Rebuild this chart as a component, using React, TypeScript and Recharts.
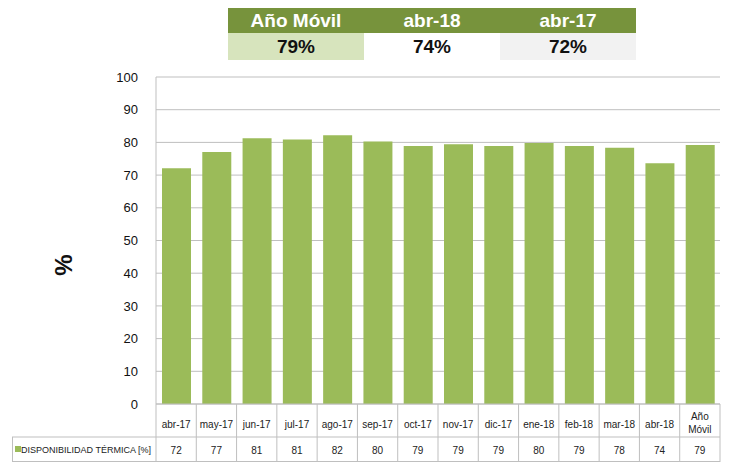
import { BarChart, Bar, XAxis, YAxis, CartesianGrid } from "recharts";

const months = ["abr-17", "may-17", "jun-17", "jul-17", "ago-17", "sep-17", "oct-17", "nov-17", "dic-17", "ene-18", "feb-18", "mar-18", "abr-18", "Año Móvil"];
const disponibilidad = [72.1, 77.1, 81.3, 80.9, 82.2, 80.3, 78.9, 79.4, 78.9, 79.8, 78.9, 78.4, 73.6, 79.2];
const tableValues = [72, 77, 81, 81, 82, 80, 79, 79, 79, 80, 79, 78, 74, 79];
const yTicks = [0, 10, 20, 30, 40, 50, 60, 70, 80, 90, 100];

const summaryHeaders = ["Año Móvil", "abr-18", "abr-17"];
const summaryValues = ["79%", "74%", "72%"];

const data = months.map((m, i) => ({ name: m, value: disponibilidad[i] }));

const GREEN = "#9bbb59";
const DARK_GREEN = "#77933c";
const BORDER = "#bfbfbf";
const FONT = "'Liberation Sans', Arial, sans-serif";

const LEFT = 156;
const RIGHT = 720;
const BAND = (RIGHT - LEFT) / months.length;

function TableTick(props: any) {
  const { x, y, payload } = props;
  const idx = payload.index;
  const top = y - 8;
  const left = x - BAND / 2;
  const label = payload.value as string;
  const parts = label === "Año Móvil" ? ["Año", "Móvil"] : [label];
  return (
    <g>
      <line x1={left + BAND} y1={top} x2={left + BAND} y2={462} stroke={BORDER} />
      {idx === 0 && (
        <g>
          <line x1={left} y1={top} x2={left} y2={462} stroke={BORDER} />
          <line x1={12} y1={437} x2={RIGHT} y2={437} stroke={BORDER} />
          <line x1={12} y1={461.5} x2={RIGHT} y2={461.5} stroke={BORDER} />
          <line x1={12.5} y1={437} x2={12.5} y2={462} stroke={BORDER} />
          <rect x={15} y={446} width={6} height={6} fill={GREEN} />
          <text x={21} y={453} fontSize={9.5} fill="#222" fontFamily={FONT} textLength={130} lengthAdjust="spacingAndGlyphs">
            DISPONIBILIDAD TÉRMICA [%]
          </text>
        </g>
      )}
      {parts.length === 1 ? (
        <text x={x} y={top + 24} textAnchor="middle" fontSize={10} fill="#222" fontFamily={FONT}>
          {parts[0]}
        </text>
      ) : (
        <text x={x} textAnchor="middle" fontSize={10} fill="#222" fontFamily={FONT}>
          <tspan x={x} y={top + 16}>{parts[0]}</tspan>
          <tspan x={x} y={top + 29}>{parts[1]}</tspan>
        </text>
      )}
      <text x={x} y={top + 50} textAnchor="middle" fontSize={10} fill="#222" fontFamily={FONT}>
        {tableValues[idx]}
      </text>
    </g>
  );
}

export default function App() {
  const cellBg = ["#d7e4bd", "#ffffff", "#f2f2f2"];
  return (
    <div style={{ position: "absolute", left: 0, top: 0, width: 738, height: 462, background: "#fff", overflow: "hidden" }}>
      <div style={{ position: "absolute", left: 228, top: 8, width: 408, fontFamily: FONT, fontWeight: "bold" }}>
        <div style={{ display: "flex", background: DARK_GREEN, height: 25 }}>
          {summaryHeaders.map((h) => (
            <div key={h} style={{ flex: 1, color: "#fff", fontSize: 19, textAlign: "center", lineHeight: "25px" }}>
              {h}
            </div>
          ))}
        </div>
        <div style={{ display: "flex", height: 27 }}>
          {summaryValues.map((v, i) => (
            <div key={i} style={{ flex: 1, background: cellBg[i], color: "#111", fontSize: 19, textAlign: "center", lineHeight: "27px" }}>
              {v}
            </div>
          ))}
        </div>
      </div>
      <div style={{ position: "absolute", left: 64, top: 265, transform: "translate(-50%, -50%) rotate(-90deg)", fontFamily: FONT, fontWeight: "bold", fontSize: 24, color: "#111" }}>
        %
      </div>
      <BarChart
        width={738}
        height={462}
        data={data}
        margin={{ top: 77, right: 738 - RIGHT, bottom: 0, left: 0 }}
        barSize={29}
        style={{ position: "absolute", left: 0, top: 0 }}
      >
        <CartesianGrid vertical={false} stroke={BORDER} />
        <YAxis
          width={LEFT}
          domain={[0, 100]}
          ticks={yTicks}
          interval={0}
          axisLine={{ stroke: BORDER }}
          tickLine={false}
          tick={{ fill: "#111", fontSize: 13, fontFamily: FONT }}
          tickMargin={12}
        />
        <XAxis
          dataKey="name"
          interval={0}
          axisLine={{ stroke: BORDER }}
          tickLine={false}
          tick={<TableTick />}
          height={58}
        />
        <Bar dataKey="value" fill={GREEN} isAnimationActive={false} />
      </BarChart>
    </div>
  );
}
